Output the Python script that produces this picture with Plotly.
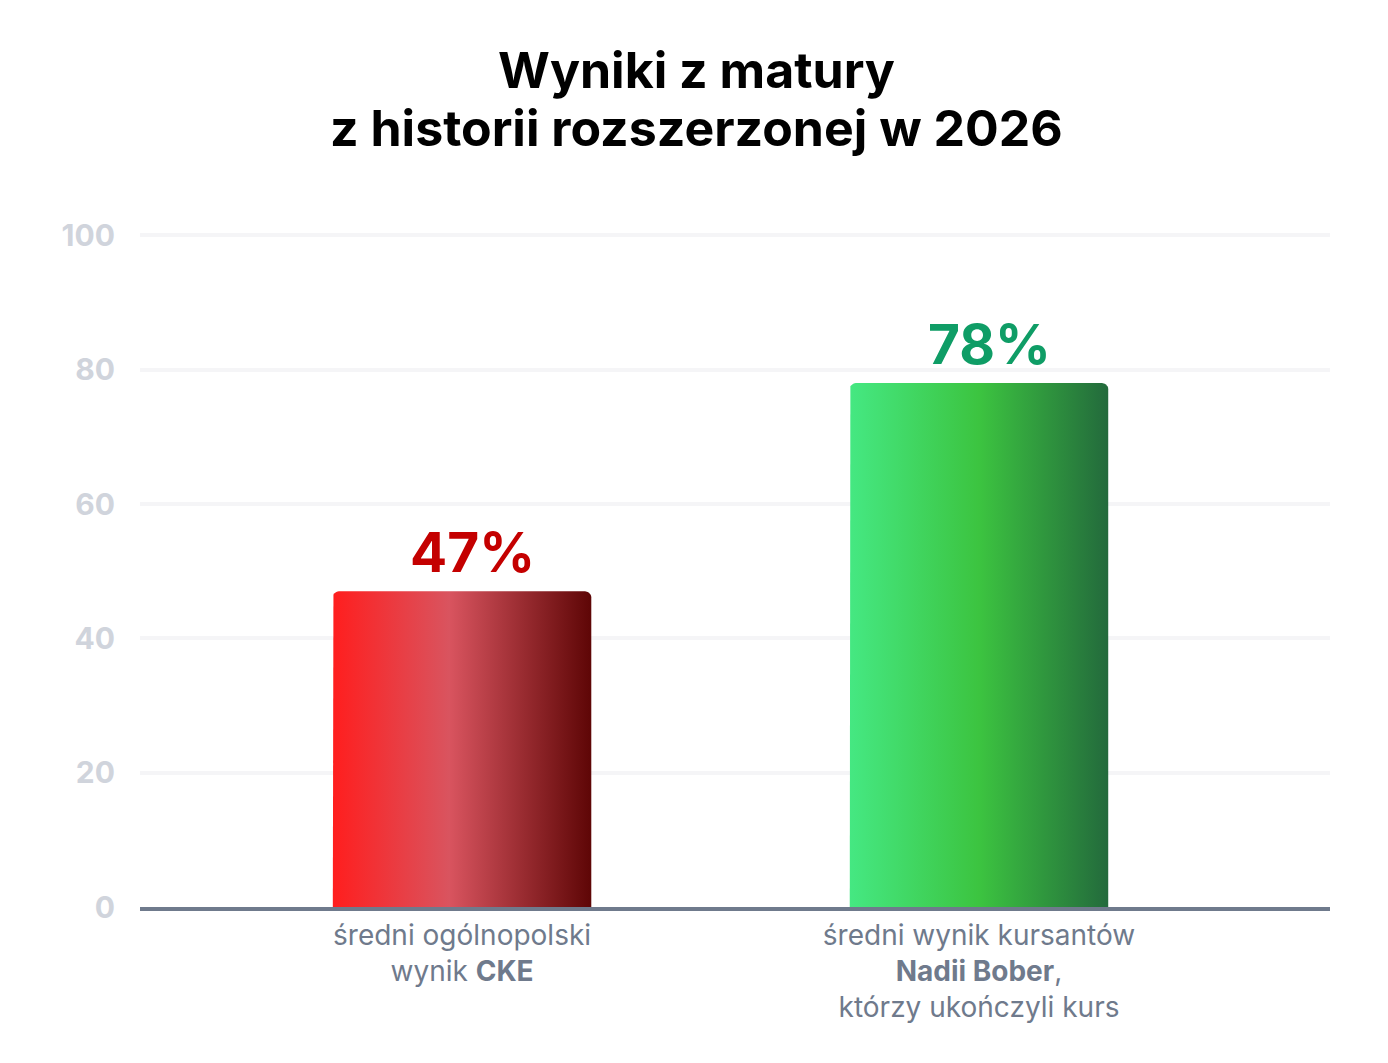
import numpy as np
import plotly.graph_objects as go

# dane
kategorie = ["średni ogólnopolski<br>wynik <b>CKE</b>",
             "średni wynik kursantów<br><b>Nadii Bober</b>,<br>którzy ukończyli kurs"]
wyniki = [47, 78]
etykiety = ["47%", "78%"]
kolory_tekstu = ["#c40000", "#0f9d66"]
gradienty = [
    [[0, "#ff1e1e"], [0.45, "#d9545f"], [1, "#5e0606"]],
    [[0, "#45e882"], [0.5, "#3cc440"], [1, "#236a3c"]],
]
y_ticks = [0, 20, 40, 60, 80, 100]
tytul = ["Wyniki z matury", "z historii rozszerzonej w 2026"]

szer = 0.5
rx, ry = 0.012, 0.9  # zaokrąglenie górnych rogów
t = np.linspace(0, np.pi / 2, 8)

fig = go.Figure()

for i, (w, grad) in enumerate(zip(wyniki, gradienty)):
    x0, x1 = i - szer / 2, i + szer / 2
    # lewy górny róg, potem prawy górny
    xs = [x0] + list(x0 + rx - rx * np.cos(t)) + list(x1 - rx + rx * np.sin(t)) + [x1, x0]
    ys = [0] + list(w - ry + ry * np.sin(t)) + list(w - ry + ry * np.cos(t)) + [0, 0]
    fig.add_trace(go.Scatter(
        x=xs, y=ys,
        mode="lines", line=dict(width=0),
        fill="toself",
        fillgradient=dict(type="horizontal", colorscale=grad),
        hoverinfo="skip", showlegend=False,
    ))
    fig.add_annotation(
        x=i, y=w, text="<b>%s</b>" % etykiety[i], showarrow=False,
        yanchor="bottom", yshift=4, xshift=10,
        font=dict(family="Inter", size=55, color=kolory_tekstu[i]),
    )

for linia, yy in zip(tytul, [1.240, 1.154]):
    fig.add_annotation(
        x=0.468, xref="paper", y=yy, yref="paper", yanchor="middle",
        text="<b>%s</b>" % linia, showarrow=False,
        font=dict(family="Inter", size=50, color="#000000"),
    )

fig.update_layout(
    width=1388, height=1063,
    paper_bgcolor="white", plot_bgcolor="white",
    margin=dict(l=132, r=66, t=224, b=164),
    xaxis=dict(
        range=[-0.623, 1.679], tickvals=[0, 1], ticktext=kategorie,
        showgrid=False, zeroline=False,
        showline=True, linecolor="#6f7a8c", linewidth=4,
        ticks="", tickfont=dict(family="Inter", size=28, color="#6f7a8c"),
    ),
    yaxis=dict(
        range=[0, 100.5], tickvals=y_ticks,
        showgrid=True, gridcolor="#f5f5f7", gridwidth=4,
        zeroline=False, showline=False, ticks="",
        ticklabelstandoff=24,
        tickfont=dict(family="Inter", size=30, color="#d0d4dc", weight="bold"),
    ),
)

fig.write_html("out.html")
